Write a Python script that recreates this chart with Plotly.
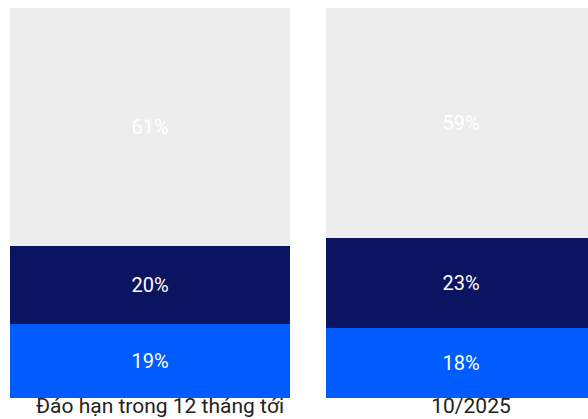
import plotly.graph_objects as go

# Maturity structure: share of each segment per period (percent)
categories = ["Đáo hạn trong 12 tháng tới", "10/2025"]
segment_names = ["Nhóm 1", "Nhóm 2", "Nhóm 3"]
segment_values = [
    [19, 18],   # bottom segment
    [20, 23],   # middle segment
    [61, 59],   # top segment
]
segment_colors = ["#005CFF", "#0B1460", "#EDEDED"]

positions = list(range(len(categories)))
bar_widths = [0.9, 0.87]

fig = go.Figure()
for name, vals, color in zip(segment_names, segment_values, segment_colors):
    fig.add_trace(go.Bar(
        x=positions,
        y=vals,
        name=name,
        width=bar_widths,
        marker=dict(color=color, line=dict(width=0)),
        text=[f"{v}%" for v in vals],
        textposition="inside",
        insidetextanchor="middle",
        textangle=0,
        textfont=dict(family="Roboto", size=20, color="#FFFFFF"),
        hoverinfo="skip",
    ))

fig.update_layout(
    barmode="stack",
    width=588,
    height=419,
    margin=dict(l=0, r=0, t=8, b=21),
    paper_bgcolor="#FFFFFF",
    plot_bgcolor="#FFFFFF",
    showlegend=False,
    uniformtext=dict(minsize=8, mode=False),
    xaxis=dict(
        range=[-150 / 311, 438 / 311],
        tickvals=positions,
        ticktext=categories,
        ticklabelshift=10,
        ticklabelstandoff=-7,
        automargin=False,
        tickfont=dict(family="Roboto", size=21, color="#222222"),
        showgrid=False,
        zeroline=False,
        showline=False,
        ticks="",
    ),
    yaxis=dict(
        range=[0, 100],
        visible=False,
        showgrid=False,
        zeroline=False,
        automargin=False,
    ),
)

fig.write_html("out.html")
